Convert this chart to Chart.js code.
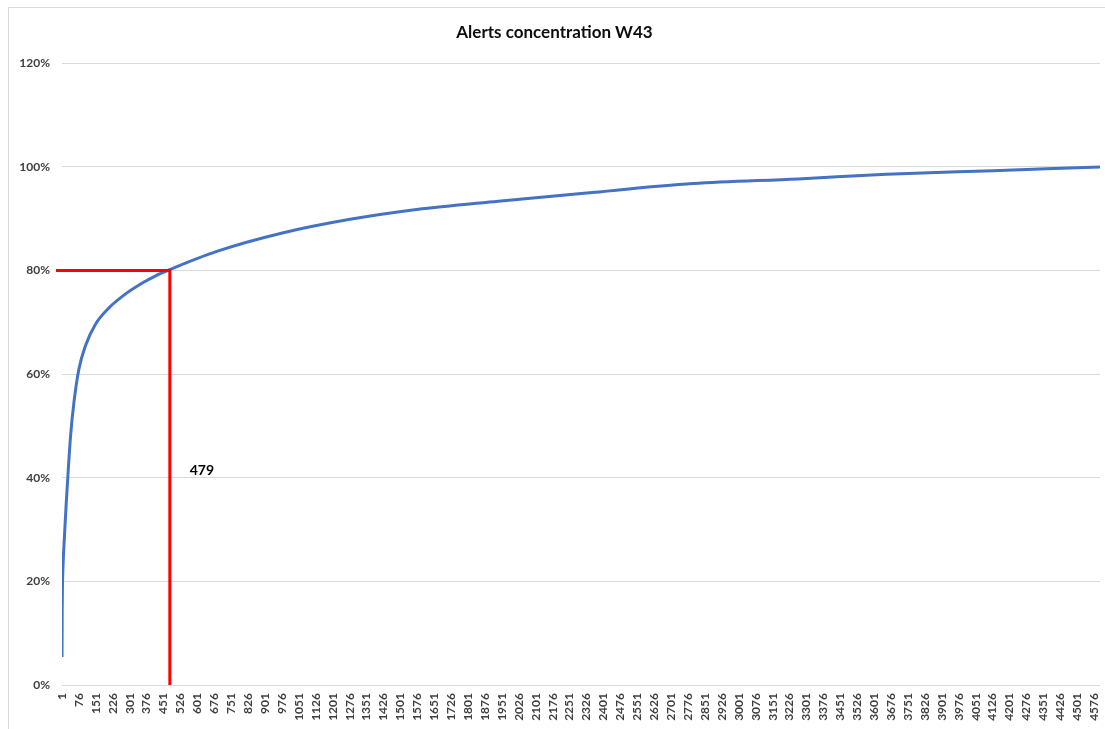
<!DOCTYPE html>
<html>
<head>
<meta charset="utf-8">
<title>Alerts concentration W43</title>
<script src="https://cdn.jsdelivr.net/npm/chart.js@4.4.1/dist/chart.umd.min.js"></script>
<style>
    html, body { margin: 0; padding: 0; background: #fff; overflow: hidden; }
    #wrap {
        position: absolute;
        left: 8px;
        top: 7px;
        width: 1096px;
        height: 721px;
        border: 1px solid #d9d9d9;
    }
</style>
</head>
<body>
<div id="wrap"><canvas id="lineChart"></canvas></div>
<script>
// ===============================
// Data
// ===============================
const alertRank = [1, 2, 3, 5, 12, 20, 29, 39, 54, 76, 105, 150, 209, 283, 357, 416, 479, 687, 982, 1278, 1573, 1935, 2327, 2799, 3265, 3656, 4129, 4602];
const cumulativePct = [5.4, 15, 19, 22.4, 28.8, 35.3, 41.7, 48.1, 54.6, 61.0, 65.5, 69.7, 72.8, 75.5, 77.6, 79.0, 80.2, 83.7, 87.3, 89.9, 91.8, 93.4, 95.0, 96.8, 97.7, 98.6, 99.3, 100];

const xTickValues = [1, 76, 151, 226, 301, 376, 451, 526, 601, 676, 751, 826, 901, 976, 1051, 1126, 1201, 1276, 1351, 1426, 1501, 1576, 1651, 1726, 1801, 1876, 1951, 2026, 2101, 2176, 2251, 2326, 2401, 2476, 2551, 2626, 2701, 2776, 2851, 2926, 3001, 3076, 3151, 3226, 3301, 3376, 3451, 3526, 3601, 3676, 3751, 3826, 3901, 3976, 4051, 4126, 4201, 4276, 4351, 4426, 4501, 4576];
const yTickValues = [0, 20, 40, 60, 80, 100, 120];

const markerX = 479;
const markerY = 80;
const markerLabel = '479';

// ===============================
// Red 80% marker + label
// ===============================
const markerPlugin = {
    id: 'marker80',
    afterDatasetsDraw(chart) {
        const { ctx, scales: { x, y } } = chart;
        const px = x.getPixelForValue(markerX);
        const py = y.getPixelForValue(markerY);

        ctx.save();
        ctx.strokeStyle = '#ff0000';
        ctx.lineWidth = 3;
        ctx.beginPath();
        ctx.moveTo(x.left - 6, py);
        ctx.lineTo(px + 1.5, py);
        ctx.moveTo(px, py - 1.5);
        ctx.lineTo(px, y.bottom);
        ctx.stroke();

        ctx.fillStyle = '#000';
        ctx.font = 'bold 14px Lato';
        ctx.textAlign = 'center';
        ctx.textBaseline = 'middle';
        ctx.fillText(markerLabel, px + 32, y.getPixelForValue(41.4));
        ctx.restore();
    }
};

// ===============================
// Chart.js Initialization
// ===============================
function initChart() {
    const canvas = document.getElementById('lineChart');
    if (!canvas) return;

    new Chart(canvas.getContext('2d'), {
        type: 'line',
        data: {
            datasets: [{
                label: 'Alerts concentration',
                data: alertRank.map((r, i) => ({ x: r, y: cumulativePct[i] })),
                borderColor: '#4472c4',
                borderWidth: 3,
                pointRadius: 0,
                cubicInterpolationMode: 'monotone',
                fill: false
            }]
        },
        options: {
            responsive: true,
            maintainAspectRatio: false,
            animation: false,
            layout: { padding: { left: 0, right: 5, top: 0, bottom: 0 } },
            plugins: {
                legend: { display: false },
                tooltip: { enabled: false },
                title: {
                    display: true,
                    text: 'Alerts concentration W43',
                    color: '#0d0d0d',
                    font: { family: 'Lato', size: 17, weight: 'bold' },
                    padding: { top: 14, bottom: 21 }
                }
            },
            scales: {
                x: {
                    type: 'linear',
                    min: 1,
                    max: 4602,
                    afterBuildTicks: (scale) => {
                        scale.ticks = xTickValues.map(v => ({ value: v }));
                    },
                    afterFit: (scale) => {
                        scale.height = 44;
                        // rotated labels would otherwise shrink the plot on the right
                        scale.paddingLeft = 0;
                        scale.paddingRight = 0;
                    },
                    grid: { display: false, drawTicks: false },
                    border: { display: false },
                    ticks: {
                        autoSkip: false,
                        minRotation: 90,
                        maxRotation: 90,
                        padding: 8,
                        color: '#404040',
                        font: { family: 'Lato', size: 12, weight: 'bold' },
                        callback: (v) => String(v)
                    }
                },
                y: {
                    min: 0,
                    max: 120,
                    afterBuildTicks: (scale) => {
                        scale.ticks = yTickValues.map(v => ({ value: v }));
                    },
                    afterFit: (scale) => { scale.width = 53; },
                    grid: { color: '#d9d9d9', lineWidth: 1, drawTicks: false },
                    border: { display: false },
                    ticks: {
                        padding: 12,
                        color: '#404040',
                        font: { family: 'Lato', size: 12, weight: 'bold' },
                        callback: (v) => v + '%'
                    }
                }
            }
        },
        plugins: [markerPlugin]
    });
}

document.addEventListener('DOMContentLoaded', () => {
    initChart();
});
</script>
</body>
</html>
